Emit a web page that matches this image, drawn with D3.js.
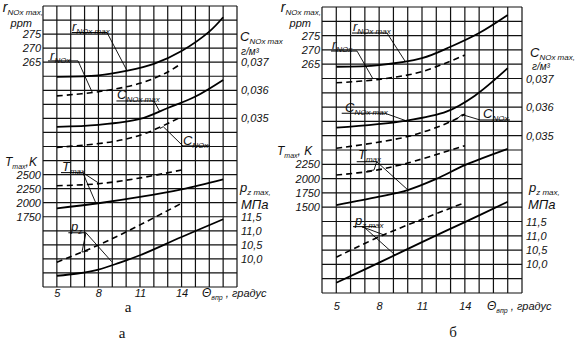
<!DOCTYPE html>
<html>
<head>
<meta charset="utf-8">
<script src="https://cdn.jsdelivr.net/npm/d3@7"></script>
<style>
  body { margin: 0; background: #fff; }
  svg text { font-family: "Liberation Sans", Arial, sans-serif; font-style: italic; fill: #111; }
  .serif { font-family: "Liberation Serif", "Times New Roman", serif; font-style: normal; }
</style>
</head>
<body>
<script>
// ---- данные ----
var xTicks = [5, 8, 11, 14];
var rTicks = [265, 270, 275];
var cTicks = [0.035, 0.036, 0.037];
var pTicks = [10.0, 10.5, 11.0, 11.5];
var tTicksA = [1750, 2000, 2250, 2500];
var tTicksB = [1500, 1750, 2000, 2250];

// панель а
var aRmaxX = [5, 8, 10, 12, 14, 16, 17];
var aRmax  = [259.8, 260.3, 261.9, 264.4, 269.0, 275.9, 281.0];
var aRX    = [5, 8, 11, 13, 14];
var aR     = [253.0, 254.5, 257.5, 261.5, 264.6];
var aCmaxX = [5, 8, 11, 13, 15, 17];
var aCmax  = [0.03470, 0.03477, 0.03498, 0.03537, 0.03578, 0.03637];
var aCX    = [5, 9, 11.4, 14];
var aC     = [0.03397, 0.03417, 0.03447, 0.03506];
var aTmaxX = [5, 8, 11, 14, 17];
var aTmax  = [1900, 1990, 2102, 2238, 2415];
var aTdX   = [5, 8, 11, 14];
var aTd    = [2302, 2337, 2440, 2582];
var aPX    = [5, 6.5, 8, 9.5, 11, 14, 17];
var aP     = [9.40, 9.48, 9.62, 9.86, 10.13, 10.78, 11.41];
var aPdX   = [5, 8, 11, 14];
var aPd    = [9.88, 10.49, 11.21, 11.98];

// панель б
var bRmaxX = [5, 8, 11, 13, 15, 17];
var bRmax  = [264.1, 264.7, 267.1, 271.1, 275.9, 282.2];
var bRX    = [5, 8, 11, 14];
var bR     = [258.5, 259.7, 262.4, 268.2];
var bCmaxX = [5, 9.8, 12.75, 14.7, 17];
var bCmax  = [0.03528, 0.03552, 0.03585, 0.03640, 0.03736];
var bCX    = [5, 10, 13, 14];
var bC     = [0.03456, 0.03497, 0.03549, 0.03576];
var bTmaxX = [5, 8, 10, 12, 14, 17];
var bTmax  = [1538, 1683, 1800, 1995, 2235, 2520];
var bTdX   = [5, 7.5, 10, 14];
var bTd    = [2063, 2133, 2273, 2575];
var bPX    = [5, 8, 11, 14, 17];
var bP     = [9.36, 10.06, 10.78, 11.48, 12.19];
var bPdX   = [5, 8.3, 14];
var bPd    = [10.25, 11.03, 12.16];

// ---- компоновка ----
var width = 578;
var height = 341;

var panels = [
  {
    x0: 43, x1: 237, y0: 6, y1: 287,
    rDom: [285, 185], cDom: [0.039, 0.029], tDom: [5500, 500], pDom: [19, 9],
    tTicks: tTicksA, xPad: 2,
    series: [
      {x: aRmaxX, y: aRmax, s: "r"}, {x: aRX, y: aR, s: "r", dash: true},
      {x: aCmaxX, y: aCmax, s: "c"}, {x: aCX, y: aC, s: "c", dash: true},
      {x: aTmaxX, y: aTmax, s: "t"}, {x: aTdX, y: aTd, s: "t", dash: true},
      {x: aPX, y: aP, s: "p"}, {x: aPdX, y: aPd, s: "p", dash: true}
    ],
    // подписи кривых: в градусах и строках сетки
    notes: [
      {m: "r", s: "NOx max", tx: 6.09, ty: 1.78, u: [6.07, 8.62, 1.89], l: [[[8.62, 1.89], [10.04, 4.56]]]},
      {m: "r", s: "NOx", tx: 4.51, ty: 3.81, u: [4.36, 6.53, 3.91], l: [[[6.53, 3.91], [7.54, 6.12]]]},
      {m: "C", s: "NOx max", tx: 9.34, ty: 6.65, u: [9.30, 12.01, 6.76], l: [[[12.01, 6.76], [12.44, 7.54]]]},
      {m: "C", s: "NOx", tx: 14.10, ty: 9.86, u: [14.10, 16.05, 9.96], l: [[[14.10, 9.96], [12.68, 8.59], [12.44, 8.72]]]},
      {m: "T", s: "max", tx: 5.37, ty: 11.74, u: [5.30, 6.87, 11.86], l: [[[6.87, 11.86], [8.04, 12.62]], [[6.87, 11.86], [7.82, 14.04]]]},
      {m: "p", s: "z", tx: 6.02, ty: 16.01, u: [5.83, 7.10, 16.14], l: [[[7.10, 16.14], [8.96, 18.20]], [[7.10, 16.14], [6.81, 17.51], [7.25, 17.44]]]}
    ],
    rTitle: {x: 43, y: 12}, ppm: {x: 32, y: 27},
    tTitle: {x: 5, y: 166, text: ",K"},
    cTitle: {x: 240, y: 41, sub: "NOx max"}, gm: {x: 241, y: 55},
    pTitle: {x: 240, y: 192}, mpa: {x: 241, y: 209},
    theta: {x: 202, y: 297},
    marks: [{t: "а", x: 128, y: 312}, {t: "а", x: 122, y: 338}]
  },
  {
    x0: 322, x1: 522, y0: 7, y1: 293,
    rDom: [285, 185], cDom: [0.0395, 0.0295], tDom: [5000, 0], pDom: [19, 9],
    tTicks: tTicksB, xPad: 9,
    series: [
      {x: bRmaxX, y: bRmax, s: "r"}, {x: bRX, y: bR, s: "r", dash: true},
      {x: bCmaxX, y: bCmax, s: "c"}, {x: bCX, y: bC, s: "c", dash: true},
      {x: bTmaxX, y: bTmax, s: "t"}, {x: bTdX, y: bTd, s: "t", dash: true},
      {x: bPX, y: bP, s: "p"}, {x: bPdX, y: bPd, s: "p", dash: true}
    ],
    notes: [
      {m: "r", s: "NOx max", tx: 6.17, ty: 1.71, u: [6.10, 8.55, 1.82], l: [[[8.55, 1.82], [9.81, 3.78]]]},
      {m: "r", s: "NOx", tx: 4.70, ty: 2.97, u: [4.63, 6.45, 3.08], l: [[[6.45, 3.08], [7.57, 5.03]]]},
      {m: "C", s: "NOx max", tx: 5.61, ty: 7.31, u: [5.38, 8.41, 7.43], l: [[[8.41, 7.43], [9.93, 7.97]]]},
      {m: "C", s: "NOx", tx: 15.27, ty: 7.73, u: [15.06, 17.16, 7.90], l: [[[15.06, 7.90], [13.80, 7.52], [13.52, 7.76]]]},
      {m: "T", s: "max", tx: 6.52, ty: 10.66, u: [6.43, 7.83, 10.82], l: [[[7.83, 10.82], [7.64, 11.40], [7.15, 11.47]], [[7.83, 10.82], [10.02, 12.80]]]},
      {m: "p", s: "z max", tx: 6.31, ty: 15.24, u: [6.17, 7.78, 15.36], l: [[[6.80, 15.36], [8.34, 15.94]], [[6.95, 15.40], [9.11, 17.34]]]}
    ],
    rTitle: {x: 321, y: 12}, ppm: {x: 311, y: 27},
    tTitle: {x: 277, y: 155, text: ", K"},
    cTitle: {x: 530, y: 57, sub: "NOx max,"}, gm: {x: 532, y: 70},
    pTitle: {x: 529, y: 192}, mpa: {x: 528, y: 209},
    theta: {x: 487, y: 310},
    marks: [{t: "б", x: 453, y: 337}]
  }
];

var svg = d3.select("body").append("svg")
  .attr("width", width)
  .attr("height", height);

function commaFmt(f) {
  return function (d) { return d3.format(f)(d).replace(".", ","); };
}

// текст с нижним индексом
function subText(g, x, y, main, sub, size, anchor) {
  var t = g.append("text")
    .attr("x", x).attr("y", y)
    .attr("text-anchor", anchor || "start");
  t.append("tspan").style("font-size", size + "px").text(main);
  t.append("tspan").attr("dy", 3).style("font-size", Math.round(size * 0.6) + "px").text(sub);
  return t;
}

panels.forEach(function (P) {
  var x = d3.scaleLinear().domain([4, 18]).range([P.x0, P.x1]);
  var row = d3.scaleLinear().domain([0, 20]).range([P.y0, P.y1]);
  var sc = {
    r: d3.scaleLinear().domain(P.rDom).range([P.y0, P.y1]),
    c: d3.scaleLinear().domain(P.cDom).range([P.y0, P.y1]),
    t: d3.scaleLinear().domain(P.tDom).range([P.y0, P.y1]),
    p: d3.scaleLinear().domain(P.pDom).range([P.y0, P.y1])
  };
  var g = svg.append("g");

  // сетка
  g.append("g").selectAll("line")
    .data(d3.range(4, 19))
    .join("line")
    .attr("x1", d => x(d)).attr("x2", d => x(d))
    .attr("y1", P.y0).attr("y2", P.y1)
    .attr("stroke", "#111").attr("stroke-width", 1.2);
  g.append("g").selectAll("line")
    .data(d3.range(0, 21))
    .join("line")
    .attr("x1", P.x0).attr("x2", P.x1)
    .attr("y1", d => row(d)).attr("y2", d => row(d))
    .attr("stroke", "#111").attr("stroke-width", 1.2);

  // оси (только подписи)
  function axisStyle(a) {
    a.select(".domain").remove();
    a.selectAll("text").style("font-size", "11px").attr("fill", "#111");
  }
  g.append("g").attr("transform", "translate(" + P.x0 + ",0)")
    .call(d3.axisLeft(sc.r).tickValues(rTicks).tickSize(0).tickPadding(2)).call(axisStyle);
  g.append("g").attr("transform", "translate(" + P.x0 + ",0)")
    .call(d3.axisLeft(sc.t).tickValues(P.tTicks).tickSize(0).tickPadding(2).tickFormat(d3.format("d"))).call(axisStyle);
  g.append("g").attr("transform", "translate(" + P.x1 + ",0)")
    .call(d3.axisRight(sc.c).tickValues(cTicks).tickSize(0).tickPadding(4).tickFormat(commaFmt(".3f"))).call(axisStyle);
  g.append("g").attr("transform", "translate(" + P.x1 + ",0)")
    .call(d3.axisRight(sc.p).tickValues(pTicks).tickSize(0).tickPadding(4).tickFormat(commaFmt(".1f"))).call(axisStyle);
  g.append("g").attr("transform", "translate(0," + P.y1 + ")")
    .call(d3.axisBottom(x).tickValues(xTicks).tickSize(0).tickPadding(P.xPad)).call(axisStyle);

  // кривые
  P.series.forEach(function (s) {
    var pts = s.x.map((v, i) => [v, s.y[i]]);
    var line = d3.line()
      .x(d => x(d[0]))
      .y(d => sc[s.s](d[1]))
      .curve(d3.curveCatmullRom.alpha(0.5));
    g.append("path")
      .attr("d", line(pts))
      .attr("fill", "none")
      .attr("stroke", "#000")
      .attr("stroke-width", s.dash ? 1.6 : 1.8)
      .attr("stroke-dasharray", s.dash ? "6,4" : null);
  });

  // подписи кривых с выносками
  P.notes.forEach(function (n) {
    subText(g, x(n.tx), row(n.ty), n.m, n.s, 13);
    g.append("line")
      .attr("x1", x(n.u[0])).attr("x2", x(n.u[1]))
      .attr("y1", row(n.u[2])).attr("y2", row(n.u[2]))
      .attr("stroke", "#000").attr("stroke-width", 1);
    n.l.forEach(function (ld) {
      g.append("path")
        .attr("d", d3.line().x(d => x(d[0])).y(d => row(d[1]))(ld))
        .attr("fill", "none").attr("stroke", "#000").attr("stroke-width", 0.9);
    });
  });

  // заголовки осей
  subText(g, P.rTitle.x, P.rTitle.y, "r", "NOx max,", 14, "end");
  g.append("text").attr("x", P.ppm.x).attr("y", P.ppm.y).attr("text-anchor", "end")
    .style("font-size", "11px").text("ppm");
  var tt = subText(g, P.tTitle.x, P.tTitle.y, "T", "max", 12);
  tt.append("tspan").attr("dy", -3).style("font-size", "12px").text(P.tTitle.text);
  subText(g, P.cTitle.x, P.cTitle.y, "C", P.cTitle.sub, 13);
  g.append("text").attr("x", P.gm.x).attr("y", P.gm.y)
    .style("font-size", "10px").text("г/м³");
  subText(g, P.pTitle.x, P.pTitle.y, "p", "z max,", 13);
  g.append("text").attr("x", P.mpa.x).attr("y", P.mpa.y)
    .style("font-size", "13px").text("МПа");

  var th = subText(g, P.theta.x, P.theta.y, "Θ", "впр", 12);
  th.append("tspan").attr("dy", -3).style("font-size", "11px").text(" , градус");

  P.marks.forEach(function (m) {
    g.append("text").attr("class", "serif")
      .attr("x", m.x).attr("y", m.y).attr("text-anchor", "middle")
      .style("font-size", "15px").text(m.t);
  });
});
</script>
</body>
</html>
